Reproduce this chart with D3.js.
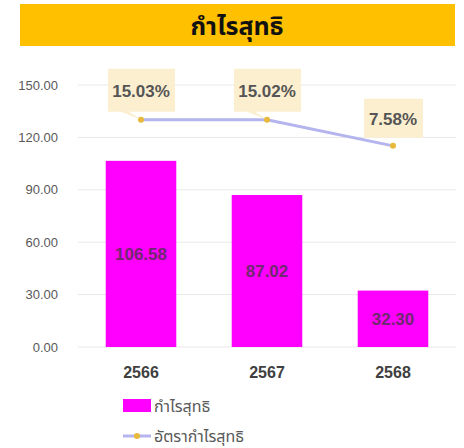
<!DOCTYPE html>
<html>
<head>
<meta charset="utf-8">
<script src="https://cdn.jsdelivr.net/npm/d3@7"></script>
<style>
  body { margin: 0; background: #fff; }
  svg { display: block; font-family: "Noto Sans", "Noto Sans Thai", Arial, sans-serif; }
</style>
</head>
<body>
<script>
// chart data
const years = ["2566", "2567", "2568"];
const netProfit = [106.58, 87.02, 32.30];
const netMargin = [15.03, 15.02, 7.58];
const yTicks = [0, 30, 60, 90, 120, 150];

const w = 464, h = 448;
const svg = d3.select("body").append("svg")
  .attr("width", w)
  .attr("height", h);

// title bar
svg.append("rect")
  .attr("x", 20).attr("y", 4)
  .attr("width", 435).attr("height", 42)
  .attr("fill", "#ffc000");
svg.append("text")
  .attr("x", 237).attr("y", 35)
  .attr("text-anchor", "middle")
  .attr("font-size", 25)
  .attr("font-weight", "bold")
  .attr("fill", "#111")
  .text("กำไรสุทธิ");

// scales
const x = d3.scaleBand().domain(years).range([78, 456]).paddingInner(0.44).paddingOuter(0.22);
const y = d3.scaleLinear().domain([0, 150]).range([347, 85]);
const y2 = d3.scaleLinear().domain([-50, 25]).range([347, 85]);

// grid lines
svg.append("g")
  .selectAll("line")
  .data(yTicks)
  .enter()
  .append("line")
  .attr("x1", 78).attr("x2", 456)
  .attr("y1", d => y(d)).attr("y2", d => y(d))
  .attr("stroke", "#e8e8e8")
  .attr("stroke-width", 1);

// y axis labels
const yAxis = d3.axisLeft(y).tickValues(yTicks).tickFormat(d3.format(".2f")).tickSize(0).tickPadding(0);
svg.append("g")
  .attr("transform", "translate(58,0)")
  .call(yAxis)
  .call(g => g.select(".domain").remove())
  .selectAll("text")
  .attr("font-size", 13)
  .attr("fill", "#595959")
  .attr("font-family", "Arial, 'Liberation Sans', sans-serif");

// bars
svg.selectAll("rect.bar")
  .data(netProfit)
  .enter()
  .append("rect")
  .attr("class", "bar")
  .attr("x", (d, i) => x(years[i]))
  .attr("y", d => y(d))
  .attr("width", x.bandwidth())
  .attr("height", d => y(0) - y(d))
  .attr("fill", "#ff00ff");

// bar value labels
svg.selectAll("text.barlab")
  .data(netProfit)
  .enter()
  .append("text")
  .attr("class", "barlab")
  .attr("x", (d, i) => x(years[i]) + x.bandwidth() / 2)
  .attr("y", d => (y(d) + y(0)) / 2 + 6)
  .attr("text-anchor", "middle")
  .attr("font-size", 17)
  .attr("font-weight", "bold")
  .attr("font-family", "Arial, 'Liberation Sans', sans-serif")
  .attr("fill", "#70286f")
  .text(d => d3.format(".2f")(d));

// x axis labels
const xAxis = d3.axisBottom(x).tickSize(0).tickPadding(0);
svg.append("g")
  .attr("transform", "translate(0,378)")
  .call(xAxis)
  .call(g => g.select(".domain").remove())
  .selectAll("text")
  .attr("dy", 0)
  .attr("font-size", 16)
  .attr("font-weight", "bold")
  .attr("fill", "#404040")
  .attr("font-family", "Arial, 'Liberation Sans', sans-serif");

// margin line
const cx = (d, i) => x(years[i]) + x.bandwidth() / 2;
const line = d3.line()
  .x((d, i) => cx(d, i))
  .y(d => y2(d));
svg.append("path")
  .datum(netMargin)
  .attr("d", line)
  .attr("fill", "none")
  .attr("stroke", "#b4b4ee")
  .attr("stroke-width", 3);

// callout labels
const callouts = svg.selectAll("g.callout")
  .data(netMargin)
  .enter()
  .append("g")
  .attr("class", "callout")
  .attr("transform", (d, i) => "translate(" + cx(d, i) + "," + y2(d) + ")");
callouts.append("path")
  .attr("d", (d, i) => i < 2 ? "M-33,-51 H34 V-8 H-12 L0,0 L-20,-8 H-33 Z" : "M-29,-47 H30 V-8 H-29 Z")
  .attr("fill", "#fcefd0");
callouts.append("text")
  .attr("x", 0)
  .attr("y", (d, i) => i < 2 ? -23 : -21)
  .attr("text-anchor", "middle")
  .attr("font-size", 17)
  .attr("font-weight", "bold")
  .attr("font-family", "Arial, 'Liberation Sans', sans-serif")
  .attr("fill", "#555")
  .text(d => d3.format(".2f")(d) + "%");

// markers
svg.selectAll("circle.pt")
  .data(netMargin)
  .enter()
  .append("circle")
  .attr("class", "pt")
  .attr("cx", (d, i) => cx(d, i))
  .attr("cy", d => y2(d))
  .attr("r", 3)
  .attr("fill", "#e8b93a");

// legend
const lg = svg.append("g").attr("transform", "translate(123,0)");
lg.append("rect")
  .attr("x", 0).attr("y", 399)
  .attr("width", 28).attr("height", 13)
  .attr("fill", "#ff00ff");
lg.append("text")
  .attr("x", 31).attr("y", 412)
  .attr("font-size", 16)
  .attr("fill", "#595959")
  .text("กำไรสุทธิ");
lg.append("line")
  .attr("x1", 0).attr("x2", 28)
  .attr("y1", 436).attr("y2", 436)
  .attr("stroke", "#b4b4ee")
  .attr("stroke-width", 3);
lg.append("circle")
  .attr("cx", 14).attr("cy", 436)
  .attr("r", 3)
  .attr("fill", "#e8b93a");
lg.append("text")
  .attr("x", 31).attr("y", 442)
  .attr("font-size", 16)
  .attr("fill", "#595959")
  .text("อัตรากำไรสุทธิ");
</script>
</body>
</html>
